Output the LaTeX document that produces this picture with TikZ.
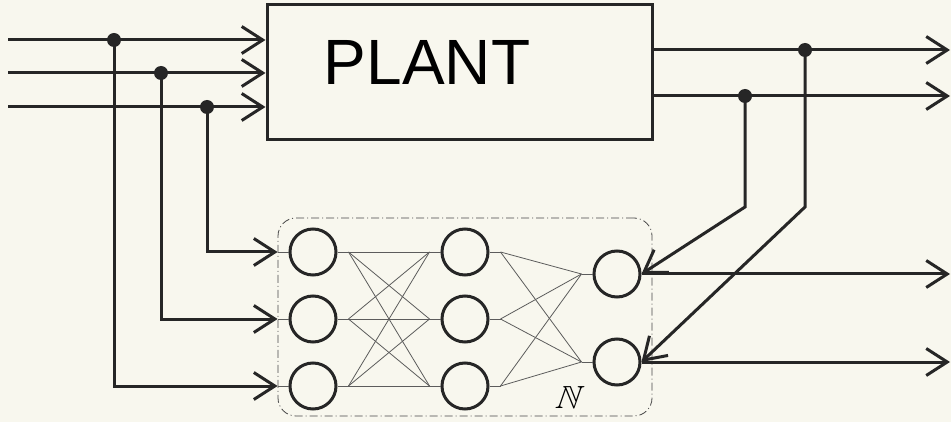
\documentclass[tikz,border=0pt]{standalone}
\usepackage{amssymb}
\usepackage{fontspec}
\setmainfont{Liberation Sans}
\usepackage{xcolor}
\usetikzlibrary{arrows.meta, positioning}
\definecolor{ink}{HTML}{262626}
\definecolor{paper}{HTML}{F8F7EE}

\begin{document}
\begin{tikzpicture}[x=1pt, y=-1pt, every node/.style={font=\normalfont}]
    % Define styles
    \tikzstyle{plant} = [rectangle, draw=ink, line width=3pt, minimum width=385pt, minimum height=135pt]
    \tikzstyle{neuron} = [circle, draw=ink, line width=3pt, minimum size=46pt, inner sep=0pt]
    \tikzstyle{junction} = [circle, fill=ink, minimum size=14pt, inner sep=0pt]
    \tikzstyle{netbox} = [rectangle, rounded corners=18pt, draw=ink!85, line width=0.8pt, dash pattern=on 8pt off 3pt on 1pt off 3pt, minimum width=374pt, minimum height=198pt]
    \tikzstyle{signal} = [draw=ink, line width=3pt, -{Straight Barb[length=21pt,width=27pt]}]
    \tikzstyle{weight} = [draw=ink!75, line width=0.8pt]

    % Page
    \fill[paper] (0,0) rectangle (951,422);
    \useasboundingbox (0,0) rectangle (951,422);

    % Plant block
    \node (plant) [plant] at (459.5,72.5) {};
    \node (plantlabel) at (427,62) {\fontsize{64}{64}\selectfont PLANT};

    % Neural network
    \node (net) [netbox] at (465,317) {};
    \node (x1) [neuron] at (313,252) {};
    \node (x2) [neuron] at (313,319) {};
    \node (x3) [neuron] at (313,386) {};
    \node (h1) [neuron] at (465,252) {};
    \node (h2) [neuron] at (465,319) {};
    \node (h3) [neuron] at (465,386) {};
    \node (y1) [neuron] at (617,274) {};
    \node (y2) [neuron] at (617,362) {};
    \node (netlabel) [xslant=0.35] at (570,397) {\scalebox{3.2}{$\mathbb{N}$}};

    % Weights
    \foreach \i in {1,2,3} {
        \draw [weight] (x\i.east) -- (h\i.west);
        \draw [weight] (h\i.east) -- ([xshift=11pt]h\i.east);
        \foreach \j in {1,2,3}
            \draw [weight] ([xshift=11pt]x\i.east) -- ([xshift=-11pt]h\j.west);
        \foreach \k in {1,2}
            \draw [weight] ([xshift=11pt]h\i.east) -- ([xshift=-11pt]y\k.west);
    }
    \foreach \k in {1,2}
        \draw [weight] (y\k.west) -- ([xshift=-11pt]y\k.west);
    \foreach \i in {1,2,3}
        \draw [weight] (x\i.west) -- (net.west |- x\i.west);

    % Plant inputs
    \coordinate (in1) at (8,40);
    \coordinate (in2) at (8,73);
    \coordinate (in3) at (8,107);
    \node (j1) [junction] at (114,40) {};
    \node (j2) [junction] at (161,73) {};
    \node (j3) [junction] at (207,107) {};
    \draw [signal] (in1) -- (in1 -| plant.west);
    \draw [signal] (in2) -- (in2 -| plant.west);
    \draw [signal] (in3) -- (in3 -| plant.west);

    % Inputs fed to the network
    \draw [signal] (j3.center) |- (net.west |- x1.west);
    \draw [signal] (j2.center) |- (net.west |- x2.west);
    \draw [signal] (j1.center) |- (net.west |- x3.west);

    % Plant outputs
    \coordinate (out1) at (950,50);
    \coordinate (out2) at (950,96);
    \node (j4) [junction] at (805,50) {};
    \node (j5) [junction] at (745,96) {};
    \draw [signal] (out1 -| plant.east) -- (out1);
    \draw [signal] (out2 -| plant.east) -- (out2);

    % Outputs fed back to the network
    \coordinate (b1) at (745,207);
    \coordinate (b2) at (805,207);
    \draw [signal] (j5.center) -- (b1) -- (y1.east);
    \draw [signal] (j4.center) -- (b2) -- (y2.east);

    % Network outputs
    \draw [signal] (y1.east) -- (y1.east -| out1);
    \draw [signal] (y2.east) -- (y2.east -| out1);
\end{tikzpicture}
\end{document}
